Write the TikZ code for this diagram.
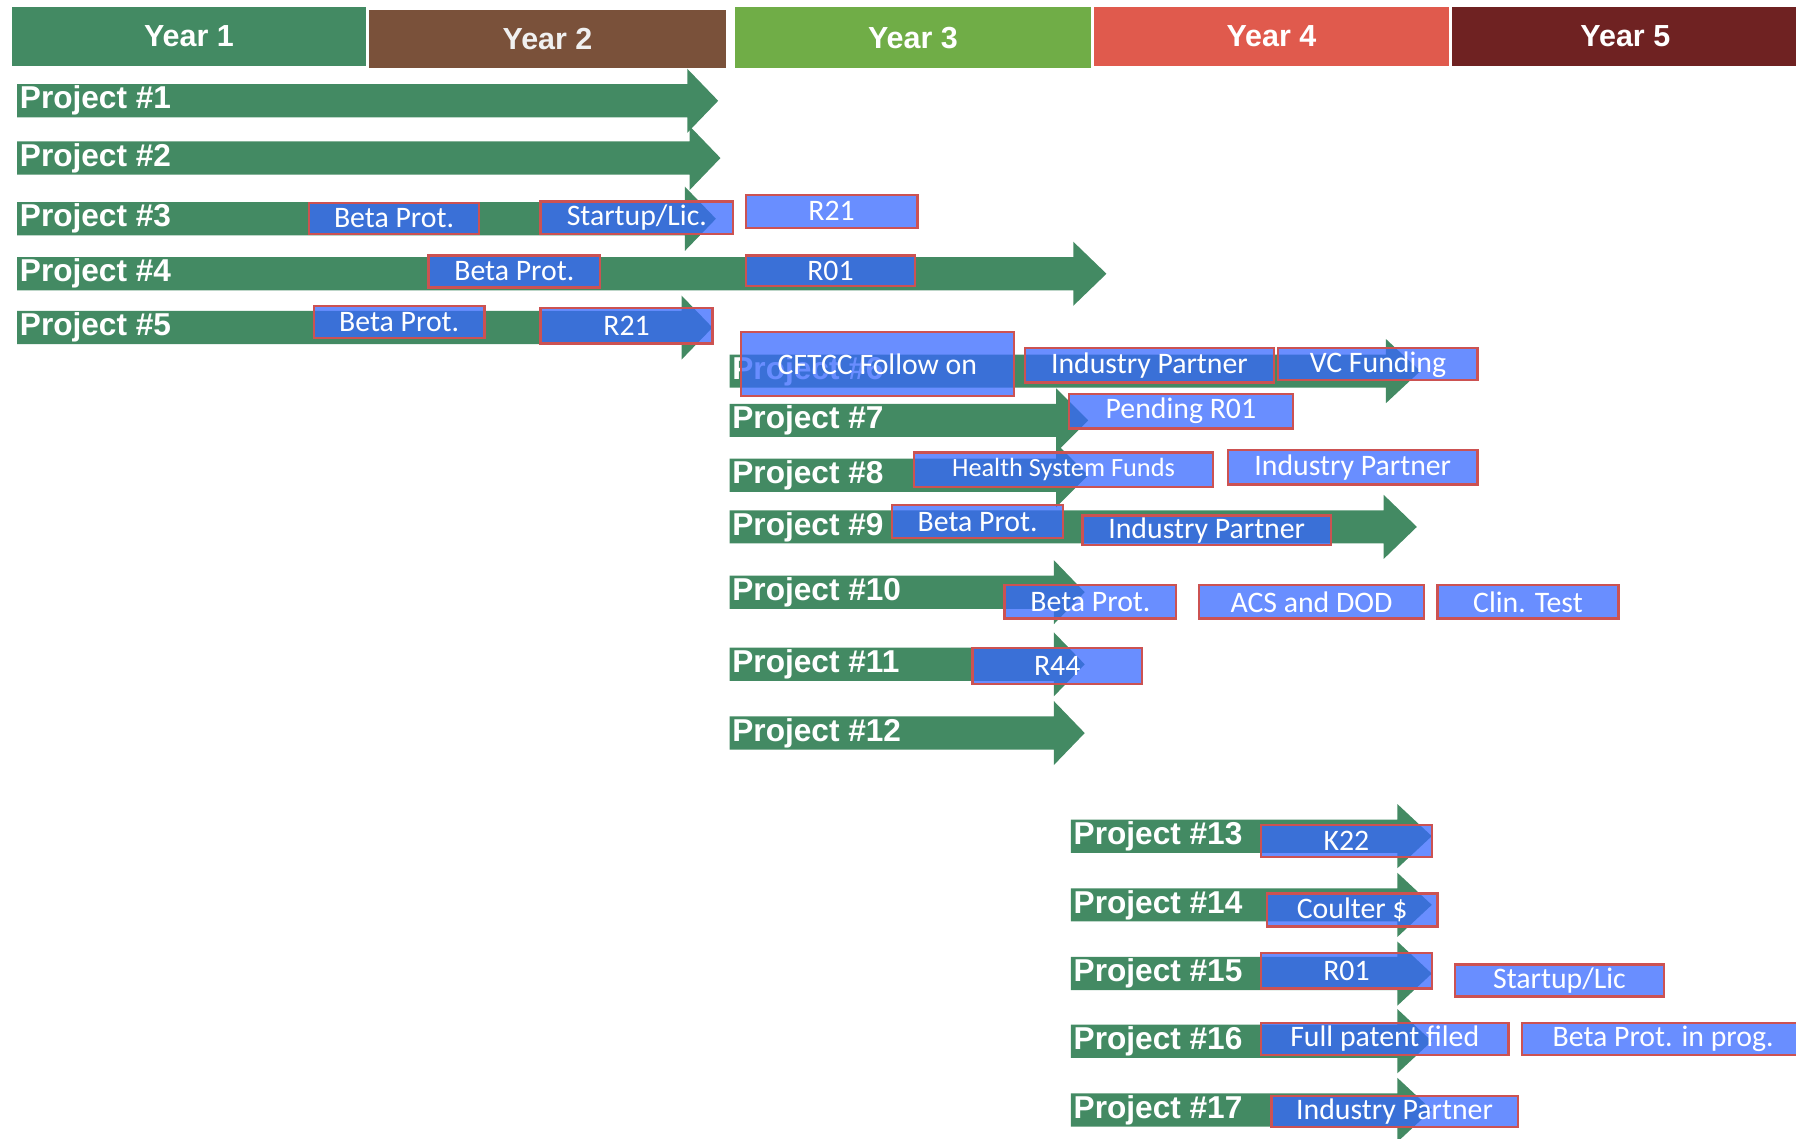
\documentclass[tikz,border=0pt]{standalone}
\usepackage{fontspec}
\setmainfont{Carlito}
\newfontfamily\hdfont{Liberation Sans}
\definecolor{prjgreen}{RGB}{67,138,99}
\definecolor{yrbrown}{RGB}{122,81,58}
\definecolor{yrlime}{RGB}{112,173,71}
\definecolor{yrred}{RGB}{224,90,77}
\definecolor{yrdark}{RGB}{111,34,34}
\definecolor{lblblue}{RGB}{55,104,255}
\definecolor{lblred}{RGB}{204,82,82}

\begin{document}
\begin{tikzpicture}[
  x=0.5pt, y=-0.5pt,
  year/.style={inner sep=0pt, draw=white, text=white, font=\hdfont\bfseries\fontsize{13.3}{15}\selectfont},
  prj/.style={anchor=west, inner sep=1pt, text=white, font=\hdfont\bfseries\fontsize{13.8}{15}\selectfont},
  lbl/.style={draw=lblred, line width=1pt, fill=lblblue, fill opacity=0.75, text opacity=1, text=white, inner sep=0pt, font=\fontsize{13}{15}\selectfont},
]
\useasboundingbox (0,0) rectangle (1568,994);
\clip (0,0) rectangle (1568,994);
% year header
\foreach \n/\x/\y/\w/\h/\c/\t in {1/165/32/310/52/prjgreen/white,
    2/478/34/312/52/yrbrown/white!88!gray, 3/797/33/312/54/yrlime/white,
    4/1110/32/310/52/yrred/white, 5/1419/32/304/52/yrdark/white}
  \node[year, fill=\c, text=\t, minimum width=\w*0.5pt, minimum height=\h*0.5pt] (y\n) at (\x,\y) {Year \n};
% project arrows
\foreach \i/\xs/\xb/\xt/\y in {1/15/600/627/88, 2/15/602/629/138, 3/15/598/625/191,
    4/15/937/966/239, 5/15/595/622/286, 6/637/1210/1240/324, 7/637/922/950/367,
    8/637/922/950/415, 9/637/1208/1237/460, 10/637/920/947/517, 11/637/920/947/580,
    12/637/920/947/640, 13/935/1220/1250/730, 14/935/1220/1250/790,
    15/935/1220/1250/850, 16/935/1220/1250/909, 17/935/1220/1250/969} {
  \fill[prjgreen] (\xs,{\y-14.5}) -- (\xb,{\y-14.5}) -- (\xb,{\y-28}) -- (\xt,\y)
    -- (\xb,{\y+28}) -- (\xb,{\y+14.5}) -- (\xs,{\y+14.5}) -- cycle;
  \node[prj] (p\i) at (\xs,\y) {Project \#\i};
}
% funding / milestone boxes
\foreach \nm/\x/\y/\w/\h/\t in {b3a/344/190.5/148/27/{Beta Prot.}, b3b/556/190/168/28/{Startup/Lic.},
    b3c/726/184.5/150/29/{R21}, b4a/449/237/150/28/{Beta Prot.}, b4b/725/236.5/148/27/{R01},
    b5a/348.5/281/149/28/{Beta Prot.}, b5b/547/284.5/150/31/{R21},
    b6a/766/318/238/56/{CFTCC Follow on}, b6b/1003.5/319/217/30/{Industry Partner},
    b6c/1203/318/174/28/{VC Funding}, b7/1031/359/196/30/{Pending R01},
    b8a/928.5/410/261/30/{\fontsize{11.5}{13}\selectfont Health System Funds},
    b8b/1181/408/218/30/{Industry Partner}, b9a/853.5/455.5/149/29/{Beta Prot.},
    b9b/1053.5/463/217/26/{Industry Partner}, b10a/952/525.5/150/29/{Beta Prot.},
    b10b/1145/525.5/196/29/{ACS and DOD}, b10c/1334/525.5/158/29/{Clin. Test},
    b11/923/581.5/148/31/{R44}, b13/1175.5/734/149/28/{K22},
    b14/1180.5/794.5/149/29/{Coulter \$}, b15a/1175.5/847.5/149/31/{R01},
    b15b/1361.5/856/183/28/{Startup/Lic}, b16a/1209/907/216/28/{Full patent filed},
    b16b/1452/907/246/28/{Beta Prot. in prog.}, b17/1217.5/970.5/215/27/{Industry Partner}}
  \node[lbl, minimum width=\w*0.5pt, minimum height=\h*0.5pt] (\nm) at (\x,\y) {\t};
\end{tikzpicture}
\end{document}
